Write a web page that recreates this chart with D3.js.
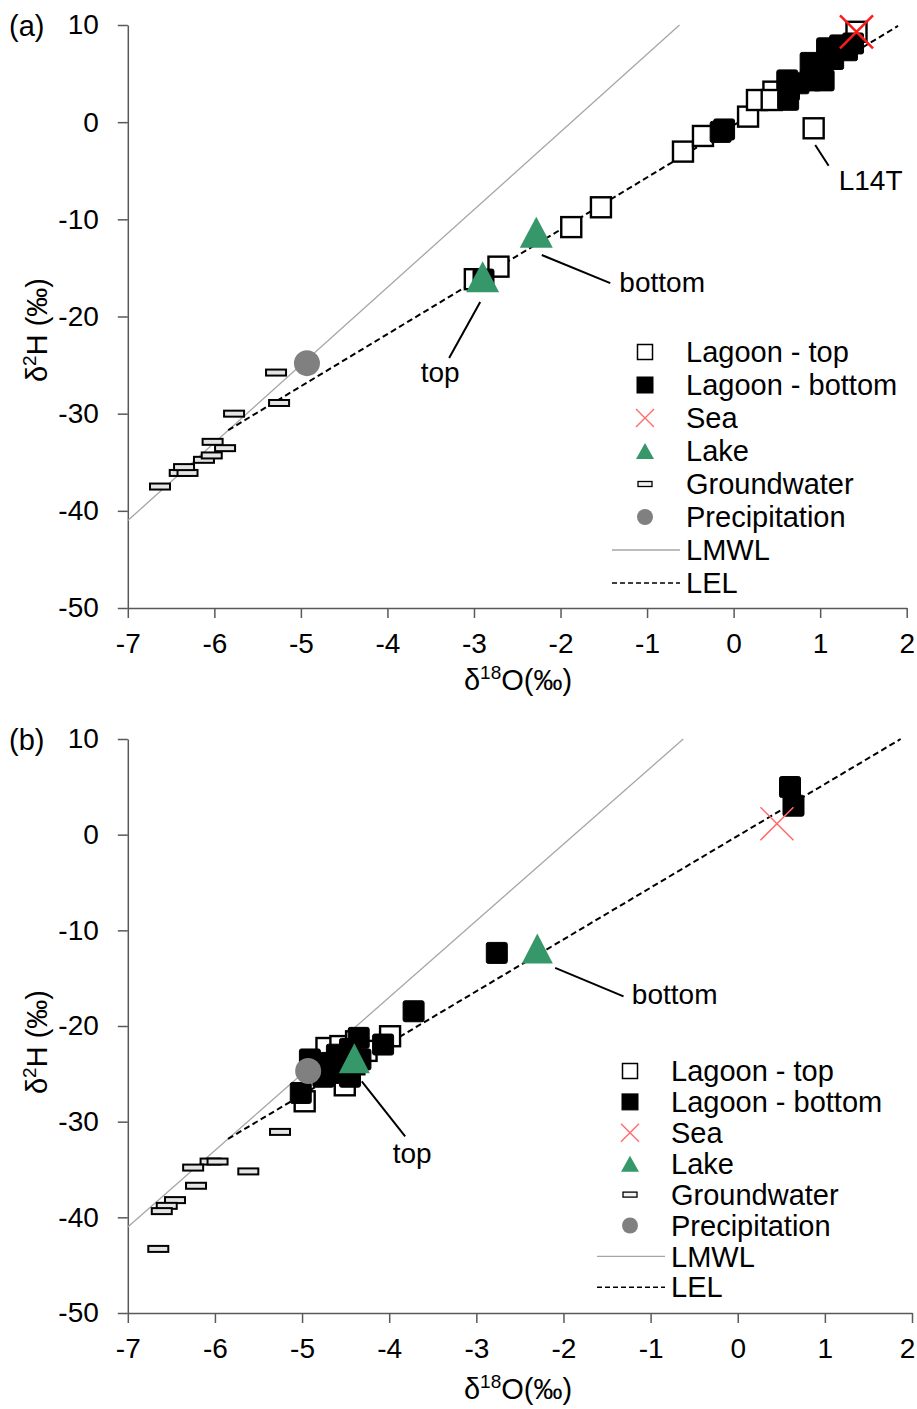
<!DOCTYPE html>
<meta charset="utf-8">
<style>
  body { margin: 0; background: #fff; }
  text { font-family: "Liberation Sans", Arial, sans-serif; fill: #000; }
  .axis path, .axis line { stroke: #595959; stroke-width: 1.5; }
  .axis text { font-size: 28px; fill: #000; }
  .lmwl { fill: none; stroke: #a6a6a6; stroke-width: 1.3; }
  .lel { fill: none; stroke: #000; stroke-width: 2; stroke-dasharray: 6,3.5; }
  .top { fill: #fff; stroke: #000; stroke-width: 2.4; }
  .bottom { fill: #000; stroke: #000; stroke-width: 1; }
  .gw { fill: #e4e4e4; stroke: #000; stroke-width: 2; }
  .lake { fill: #36976a; }
  .precip { fill: #808080; }
  .lead { stroke: #000; stroke-width: 2; }
</style>
<body></body>
<script src="https://d3js.org/d3.v7.min.js"></script>
<script>

// tick values
var xTicks = [-7, -6, -5, -4, -3, -2, -1, 0, 1, 2];
var yTicks = [10, 0, -10, -20, -30, -40, -50];

// reference lines [d18O, d2H]
var lmwl = [[-7, -41], [-0.625, 10]];
var lelA = [[-5.84, -31.7], [1.9, 9.9]];
var lelB = [[-5.85, -31.8], [1.87, 10]];

// panel (a)
var aLagoonTop = [[1.42, 9.3], [0.925, -0.63], [-0.585, -3.03], [-0.354, -1.42], [0.167, 0.57],
  [0.27, 2.28], [0.46, 3.14], [0.44, 2.28], [-1.533, -8.76], [-1.876, -10.8], [-2.717, -14.87],
  [-2.99, -16.16]];
var aLagoonBottom = [[-0.15, -1.0], [-0.11, -0.75], [-2.89, -16.2], [0.62, 4.3], [0.63, 2.3],
  [0.64, 3.3], [0.89, 6.1], [1.04, 4.3], [1.0, 5.1], [0.89, 4.3], [0.95, 5.5], [1.08, 7.6],
  [1.23, 7.9], [1.38, 8.1], [1.31, 7.4], [1.15, 6.5], [0.75, 4.0]];
var aSea = [[1.42, 9.3]];
var aLake = [[-2.28, -11.33], [-2.9, -15.9]];
var aGroundwater = [[-6.628, -37.5], [-6.40, -36.1], [-6.31, -36.1], [-6.35, -35.5], [-6.12, -34.75],
  [-6.03, -34.3], [-6.02, -32.9], [-5.876, -33.55], [-5.772, -30.0], [-5.252, -28.9], [-5.287, -25.77]];
var aPrecip = [[-4.93, -24.8]];

// panel (b)
var bLagoonTop = [[-3.99, -21.07], [-4.72, -22.3], [-4.56, -22.1], [-4.38, -21.6], [-4.26, -22.6],
  [-4.97, -27.87], [-4.51, -26.2], [-4.40, -24.0]];
var bLagoonBottom = [[0.60, 4.98], [0.64, 3.03], [-2.765, -12.36], [-3.72, -18.46], [-4.07, -21.94],
  [-4.35, -21.24], [-4.33, -23.5], [-4.91, -23.5], [-4.83, -24.55], [-4.68, -23.86], [-4.565, -24.9],
  [-4.755, -25.3], [-4.45, -25.3], [-5.015, -27.0], [-4.6, -23.0], [-4.45, -22.4]];
var bSea = [[0.45, 1.15]];
var bLake = [[-2.30, -11.9], [-4.40, -23.37]];
var bGroundwater = [[-5.253, -31.07], [-6.05, -34.17], [-5.97, -34.17], [-6.25, -34.8], [-6.217, -36.7],
  [-5.617, -35.2], [-6.458, -38.2], [-6.553, -38.8], [-6.61, -39.35], [-6.65, -43.3]];
var bPrecip = [[-4.93, -24.7]];

// annotations: text, leader from, leader to, text position
var aNotes = [
  {text: "bottom", from: [-2.217, -13.67], to: [-1.425, -16.57], at: [-1.32, -17.44], anchor: "start"},
  {text: "L14T", from: [0.943, -2.35], to: [1.098, -4.48], at: [1.214, -6.97], anchor: "start"},
  {text: "top", from: [-2.928, -18.5], to: [-3.287, -24.26], at: [-3.39, -26.7], anchor: "middle"}
];
var bNotes = [
  {text: "bottom", from: [-2.095, -13.93], to: [-1.311, -16.9], at: [-1.215, -17.66], anchor: "start"},
  {text: "top", from: [-4.315, -25.78], to: [-3.817, -31.53], at: [-3.737, -34.27], anchor: "middle"}
];

var legendLabels = ["Lagoon - top", "Lagoon - bottom", "Sea", "Lake", "Groundwater", "Precipitation", "LMWL", "LEL"];

var svg = d3.select("body").append("svg")
    .attr("width", 917)
    .attr("height", 1409);

function triPath(w, h) {
  return "M0," + (-h / 2) + "L" + (w / 2) + "," + (h / 2) + "L" + (-w / 2) + "," + (h / 2) + "Z";
}

// plain hyphen for negatives, like the original
var fmt = function(d) { return String(d); };

function drawPanel(p) {
  var x = d3.scaleLinear().domain([-7, 2]).range(p.xr);
  var y = d3.scaleLinear().domain([-50, 10]).range(p.yr);
  var g = svg.append("g");

  var xa = g.append("g")
      .attr("class", "axis")
      .attr("transform", "translate(0," + p.yr[0] + ")")
      .call(d3.axisBottom(x).tickValues(xTicks).tickSize(10).tickSizeOuter(0).tickPadding(15).tickFormat(fmt));
  // keep the last label inside the page
  xa.selectAll(".tick text").filter(function(d) { return d === 2; }).attr("dx", p.lastDx);

  g.append("g")
      .attr("class", "axis")
      .attr("transform", "translate(" + p.xr[0] + ",0)")
      .call(d3.axisLeft(y).tickValues(yTicks).tickSize(10).tickSizeOuter(0).tickPadding(19).tickFormat(fmt));

  var line = d3.line().x(function(d) { return x(d[0]); }).y(function(d) { return y(d[1]); });
  g.append("path").datum(lmwl).attr("class", "lmwl").attr("d", line);
  g.append("path").datum(p.lel).attr("class", "lel").attr("d", line);

  g.selectAll(".gw").data(p.gw).enter().append("rect")
      .attr("class", "gw")
      .attr("x", function(d) { return x(d[0]) - 10; })
      .attr("y", function(d) { return y(d[1]) - 3; })
      .attr("width", 20).attr("height", 6);

  g.selectAll(".top").data(p.top).enter().append("rect")
      .attr("class", "top")
      .attr("x", function(d) { return x(d[0]) - 10; })
      .attr("y", function(d) { return y(d[1]) - 10; })
      .attr("width", 20).attr("height", 20);

  g.selectAll(".bottom").data(p.bottom).enter().append("rect")
      .attr("class", "bottom")
      .attr("x", function(d) { return x(d[0]) - 10.5; })
      .attr("y", function(d) { return y(d[1]) - 10.5; })
      .attr("width", 21).attr("height", 21).attr("rx", 2);

  g.selectAll(".precip").data(p.precip).enter().append("circle")
      .attr("class", "precip")
      .attr("cx", function(d) { return x(d[0]); })
      .attr("cy", function(d) { return y(d[1]); })
      .attr("r", 13);

  g.selectAll(".lake").data(p.lake).enter().append("path")
      .attr("class", "lake")
      .attr("transform", function(d) { return "translate(" + x(d[0]) + "," + y(d[1]) + ")"; })
      .attr("d", triPath(p.triW, p.triH));

  p.sea.forEach(function(d) {
    var cx = x(d[0]), cy = y(d[1]), s = 16.5;
    g.append("path")
        .attr("d", "M" + (cx - s) + "," + (cy - s) + "L" + (cx + s) + "," + (cy + s) +
                   "M" + (cx + s) + "," + (cy - s) + "L" + (cx - s) + "," + (cy + s))
        .attr("stroke", p.seaColor).attr("stroke-width", p.seaWidth).attr("fill", "none");
  });

  p.notes.forEach(function(n) {
    g.append("line").attr("class", "lead")
        .attr("x1", x(n.from[0])).attr("y1", y(n.from[1]))
        .attr("x2", x(n.to[0])).attr("y2", y(n.to[1]));
    g.append("text")
        .attr("x", x(n.at[0])).attr("y", y(n.at[1]))
        .attr("text-anchor", n.anchor)
        .style("font-size", "28px")
        .text(n.text);
  });

  // axis titles
  var xt = g.append("text")
      .attr("x", 518)
      .attr("y", p.yr[0] + p.xtDy)
      .attr("text-anchor", "middle")
      .style("font-size", "29px");
  xt.append("tspan").text("\u03b4");
  xt.append("tspan").attr("dy", -11).style("font-size", "19px").text("18");
  xt.append("tspan").attr("dy", 11).text("O(\u2030)");

  var yt = g.append("text")
      .attr("transform", "translate(" + 47 + "," + p.ytY + ") rotate(-90)")
      .attr("text-anchor", "middle")
      .style("font-size", "29px");
  yt.append("tspan").text("\u03b4");
  yt.append("tspan").attr("dy", -11).style("font-size", "19px").text("2");
  yt.append("tspan").attr("dy", 11).text("H (\u2030)");

  g.append("text")
      .attr("x", 9).attr("y", p.yr[1] + 11)
      .style("font-size", "29px")
      .text(p.label);

  // legend
  var lg = g.append("g").attr("transform", "translate(" + p.legX + "," + p.legY + ")");
  legendLabels.forEach(function(lab, i) {
    var ry = i * p.legDy;
    var mx = 0;
    if (i === 0) lg.append("rect").attr("class", "top").attr("x", mx - 7.5).attr("y", ry - 7.5).attr("width", 15).attr("height", 15).style("stroke-width", 1.5);
    if (i === 1) lg.append("rect").attr("class", "bottom").attr("x", mx - 8).attr("y", ry - 8).attr("width", 16).attr("height", 16);
    if (i === 2) lg.append("path").attr("d", "M-9," + (ry - 9) + "L9," + (ry + 9) + "M9," + (ry - 9) + "L-9," + (ry + 9))
        .attr("stroke", "#ff6b6b").attr("stroke-width", 1.4).attr("fill", "none");
    if (i === 3) lg.append("path").attr("class", "lake").attr("transform", "translate(0," + ry + ")").attr("d", triPath(18, 16));
    if (i === 4) lg.append("rect").attr("class", "gw").attr("x", -7).attr("y", ry - 2.5).attr("width", 14).attr("height", 5).style("stroke-width", 1.3).style("fill", "#f2f2f2");
    if (i === 5) lg.append("circle").attr("class", "precip").attr("cx", 0).attr("cy", ry).attr("r", 8);
    if (i === 6) lg.append("line").attr("class", "lmwl").attr("x1", -33).attr("x2", 35).attr("y1", ry).attr("y2", ry);
    if (i === 7) lg.append("line").attr("class", "lel").attr("x1", -33).attr("x2", 35).attr("y1", ry).attr("y2", ry).style("stroke-width", 1.6).style("stroke-dasharray", "5,3");
    lg.append("text").attr("x", 41).attr("y", ry).attr("dy", "0.35em").style("font-size", "29px").text(lab);
  });
}

drawPanel({
  label: "(a)", xr: [127.8, 906.7], yr: [608, 25], lel: lelA,
  top: aLagoonTop, bottom: aLagoonBottom, sea: aSea, lake: aLake, gw: aGroundwater, precip: aPrecip,
  notes: aNotes, triW: 33, triH: 31, seaColor: "#ff1a1a", seaWidth: 2.5,
  legX: 645, legY: 352, legDy: 33, xtDy: 82, ytY: 330, lastDx: 0
});
drawPanel({
  label: "(b)", xr: [127.8, 912], yr: [1313, 739], lel: lelB,
  top: bLagoonTop, bottom: bLagoonBottom, sea: bSea, lake: bLake, gw: bGroundwater, precip: bPrecip,
  notes: bNotes, triW: 31, triH: 30, seaColor: "#ff6b6b", seaWidth: 1.5,
  legX: 630, legY: 1071, legDy: 30.9, xtDy: 86, ytY: 1042, lastDx: -5
});

</script>
